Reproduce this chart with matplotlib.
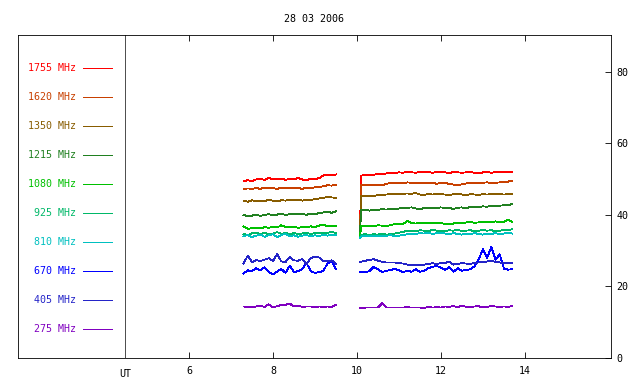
import matplotlib
matplotlib.use("Agg")
import matplotlib.pyplot as plt

title = "28 03 2006"
freqs = ["1755", "1620", "1350", "1215", "1080", "925", "810", "670", "405", "275"]
colors = ["#ff0000", "#c84000", "#885c00", "#208020", "#00c000",
          "#00b868", "#00c0c0", "#0000ff", "#2424c8", "#8000c0"]

t1 = [7.3, 7.4, 7.5, 7.6, 7.7, 7.8, 7.9, 8.0, 8.1, 8.2, 8.3, 8.4, 8.5, 8.6, 8.7,
      8.8, 8.9, 9.0, 9.1, 9.2, 9.3, 9.4, 9.5]
t2 = [10.07, 10.1, 10.2, 10.3, 10.4, 10.5, 10.6, 10.7, 10.8, 10.9, 11.0, 11.1, 11.2,
      11.3, 11.4, 11.5, 11.6, 11.7, 11.8, 11.9, 12.0, 12.1, 12.2, 12.3, 12.4, 12.5,
      12.6, 12.7, 12.8, 12.9, 13.0, 13.1, 13.2, 13.3, 13.4, 13.5, 13.6, 13.7]

s1755_a = [49.4, 49.7, 49.5, 49.9, 50.1, 49.8, 50.3, 50.0, 49.9, 50.2, 49.8, 50.1,
           50.0, 50.3, 49.9, 49.7, 50.2, 50.0, 50.3, 51.0, 51.3, 51.0, 51.3]
s1755_b = [33.5, 51.0, 51.1, 51.3, 51.2, 51.5, 51.4, 51.6, 51.8, 51.7, 51.9, 51.8, 52.0,
           51.9, 51.8, 52.0, 51.9, 52.0, 51.8, 52.0, 51.9, 51.9, 51.7, 52.0, 51.9, 51.8,
           51.9, 52.0, 51.8, 51.6, 51.9, 52.0, 51.8, 52.0, 51.9, 52.0, 52.0, 51.9]
s1620_a = [47.2, 47.4, 47.3, 47.5, 47.3, 47.6, 47.4, 47.5, 47.3, 47.6, 47.5, 47.4,
           47.6, 47.5, 47.3, 47.6, 47.5, 47.7, 47.8, 48.0, 48.3, 48.2, 48.4]
s1620_b = [33.5, 48.3, 48.4, 48.3, 48.5, 48.4, 48.3, 48.7, 48.9, 48.8, 49.0, 48.9, 49.1,
           49.0, 48.9, 48.8, 49.0, 48.9, 49.0, 48.7, 48.9, 49.0, 48.6, 48.5, 48.2, 48.6,
           48.8, 48.9, 49.0, 48.8, 49.0, 49.1, 48.9, 49.0, 49.1, 49.2, 49.3, 49.6]
s1350_a = [44.0, 43.7, 44.1, 43.8, 44.0, 43.9, 44.2, 44.0, 43.8, 44.1, 44.0, 44.3,
           44.1, 44.2, 44.0, 44.3, 44.2, 44.4, 44.6, 44.8, 45.0, 44.9, 44.8]
s1350_b = [33.5, 45.2, 45.3, 45.4, 45.3, 45.5, 45.6, 45.7, 45.8, 45.9, 45.8, 45.9, 46.0,
           45.9, 46.1, 45.7, 45.6, 45.8, 45.7, 45.9, 45.8, 45.7, 45.6, 45.8, 45.9, 45.7,
           45.5, 45.8, 45.7, 45.6, 45.8, 45.7, 45.8, 45.9, 45.8, 45.7, 45.8, 45.9]
s1215_a = [40.0, 39.6, 39.8, 40.1, 39.7, 40.0, 40.2, 39.9, 40.1, 40.3, 40.0, 40.2,
           40.4, 40.1, 40.3, 40.0, 40.4, 40.2, 40.5, 40.7, 40.9, 40.6, 41.0]
s1215_b = [33.5, 41.3, 41.4, 41.2, 41.5, 41.4, 41.6, 41.5, 41.7, 41.6, 41.8, 41.9, 42.0,
           42.1, 41.8, 41.6, 41.9, 42.0, 41.8, 41.9, 42.1, 42.0, 41.9, 41.7, 42.0, 42.1,
           41.9, 42.2, 42.3, 42.1, 42.4, 42.3, 42.5, 42.4, 42.6, 42.7, 42.8, 43.0]
s1080_a = [36.8, 36.1, 36.3, 36.5, 36.2, 36.6, 36.4, 36.7, 36.5, 37.1, 36.6, 36.5,
           36.7, 36.4, 36.6, 36.5, 36.8, 36.6, 37.0, 37.3, 36.8, 37.0, 36.9]
s1080_b = [33.5, 36.9, 36.8, 37.0, 36.9, 37.1, 37.0, 36.8, 37.2, 37.4, 37.6, 37.5, 38.3,
           37.7, 37.6, 37.8, 37.7, 37.9, 37.6, 37.8, 37.7, 37.5, 37.4, 37.6, 37.8, 37.7,
           37.9, 38.0, 37.8, 37.9, 38.1, 37.9, 38.0, 38.2, 37.9, 38.1, 38.6, 38.0]
s925_a = [34.7, 34.3, 34.9, 35.1, 34.6, 35.0, 34.5, 34.8, 35.2, 34.7, 35.0, 34.6,
          34.9, 34.7, 34.8, 35.0, 34.7, 34.9, 35.1, 34.8, 35.0, 35.2, 35.0]
s925_b = [33.5, 34.5, 34.6, 34.4, 34.6, 34.5, 34.7, 34.5, 34.6, 34.8, 35.0, 35.3, 35.5,
          35.6, 35.5, 35.7, 35.6, 35.5, 35.8, 35.6, 35.4, 35.5, 35.7, 35.6, 35.8, 35.5,
          35.6, 35.7, 35.5, 35.6, 35.8, 35.6, 35.7, 35.5, 35.6, 35.8, 35.7, 36.0]
s810_a = [34.0, 34.4, 33.8, 34.2, 34.5, 33.9, 34.3, 34.6, 33.8, 34.4, 34.7, 34.1,
          34.3, 33.9, 34.2, 34.4, 34.0, 34.3, 34.1, 34.4, 34.2, 34.5, 34.3]
s810_b = [33.5, 34.0, 34.1, 34.0, 34.2, 34.1, 34.0, 34.2, 34.3, 34.1, 34.2, 34.4, 34.6,
          34.8, 34.7, 34.9, 34.8, 35.0, 34.7, 34.9, 35.0, 34.8, 34.6, 34.9, 34.7, 34.5,
          34.8, 34.6, 34.9, 34.7, 34.5, 34.8, 34.7, 34.9, 34.6, 34.8, 35.0, 34.8]
s670_a = [23.6, 24.5, 24.3, 25.1, 24.5, 25.4, 24.0, 23.4, 24.2, 24.9, 23.8, 25.8,
          24.0, 24.3, 24.9, 26.5, 24.3, 23.8, 24.0, 24.3, 26.5, 27.0, 24.9]
s670_b = [24.1, 24.1, 24.0, 24.3, 25.5, 24.8, 24.0, 24.4, 24.6, 24.9, 24.5, 24.0, 24.4,
          24.1, 24.8, 24.1, 24.4, 25.1, 25.5, 25.7, 25.3, 24.6, 25.4, 24.1, 25.1, 24.4,
          24.6, 24.8, 25.6, 27.5, 30.5, 28.0, 31.0, 27.5, 29.0, 25.0, 24.7, 24.8]
s405_a = [26.4, 28.6, 26.8, 27.4, 27.1, 27.5, 27.9, 27.1, 29.0, 27.0, 26.8, 28.3,
          27.3, 27.2, 27.7, 26.2, 27.9, 28.3, 28.1, 27.1, 27.0, 27.3, 26.4]
s405_b = [26.9, 26.9, 27.2, 27.4, 27.6, 27.2, 26.9, 26.7, 26.7, 26.7, 26.5, 26.4, 26.1,
          26.0, 26.1, 26.0, 26.1, 26.3, 26.5, 26.3, 26.5, 26.6, 26.9, 26.1, 26.3, 26.5,
          26.4, 26.3, 26.6, 26.7, 26.8, 27.0, 27.1, 26.9, 26.7, 26.6, 26.5, 26.5]
s275_a = [14.4, 14.2, 14.3, 14.4, 14.6, 14.3, 15.0, 14.1, 14.5, 14.8, 14.9, 15.2,
          14.4, 14.6, 14.3, 14.4, 14.4, 14.3, 14.4, 14.3, 14.4, 14.3, 14.9]
s275_b = [14.0, 14.0, 14.1, 14.1, 14.1, 14.1, 15.3, 14.1, 14.1, 14.1, 14.1, 14.1, 14.2,
          14.1, 14.1, 14.1, 14.0, 14.3, 14.1, 14.2, 14.1, 14.4, 14.3, 14.5, 14.2, 14.6,
          14.3, 14.2, 14.4, 14.5, 14.1, 14.3, 14.5, 14.4, 14.3, 14.4, 14.3, 14.5]

seg_a = [s1755_a, s1620_a, s1350_a, s1215_a, s1080_a, s925_a, s810_a, s670_a, s405_a, s275_a]
seg_b = [s1755_b, s1620_b, s1350_b, s1215_b, s1080_b, s925_b, s810_b, s670_b, s405_b, s275_b]

xticks = [6, 8, 10, 12, 14]
yticks = [0, 20, 40, 60, 80]

FONT = "DejaVu Sans Mono"
FS = 7.2
LW = 0.6

fig = plt.figure(figsize=(6.4, 3.84), dpi=100)
ax = fig.add_axes([18 / 640, 26 / 384, 593 / 640, 323 / 384])
ax.set_xlim(1.93, 16.05)
ax.set_ylim(0, 90.3)

for i in range(len(freqs)):
    ax.plot(t1, seg_a[i], color=colors[i], lw=LW, antialiased=False)
    ax.plot(t2, seg_b[i], color=colors[i], lw=LW, antialiased=False)

# legend column
for i, (f, c) in enumerate(zip(freqs, colors)):
    y = 81.1 - i * 8.1
    ax.text(3.31, y, f + " MHz", color=c, fontsize=FS, family=FONT,
            ha="right", va="center")
    ax.plot([3.476, 4.17], [y, y], color=c, lw=LW, antialiased=False)
ax.axvline(4.476, color="#505050", lw=LW, antialiased=False)

for s in ax.spines.values():
    s.set_linewidth(LW)
    s.set_color("black")

ax.yaxis.tick_right()
ax.set_yticks(yticks)
ax.set_yticklabels([str(v) for v in yticks], family=FONT, fontsize=FS)
ax.tick_params(axis="y", direction="in", length=4, width=LW, pad=4)
ax.set_xticks(xticks)
ax.set_xticklabels([str(v) for v in xticks], family=FONT, fontsize=FS)
ax.tick_params(axis="x", direction="in", length=4, width=LW, pad=6, top=True)
ax.text(4.476, -3.2, "UT", fontsize=FS, family=FONT, ha="center", va="top")
ax.set_title(title, fontsize=FS, family=FONT, pad=9)

fig.savefig("out.png", dpi=100)
